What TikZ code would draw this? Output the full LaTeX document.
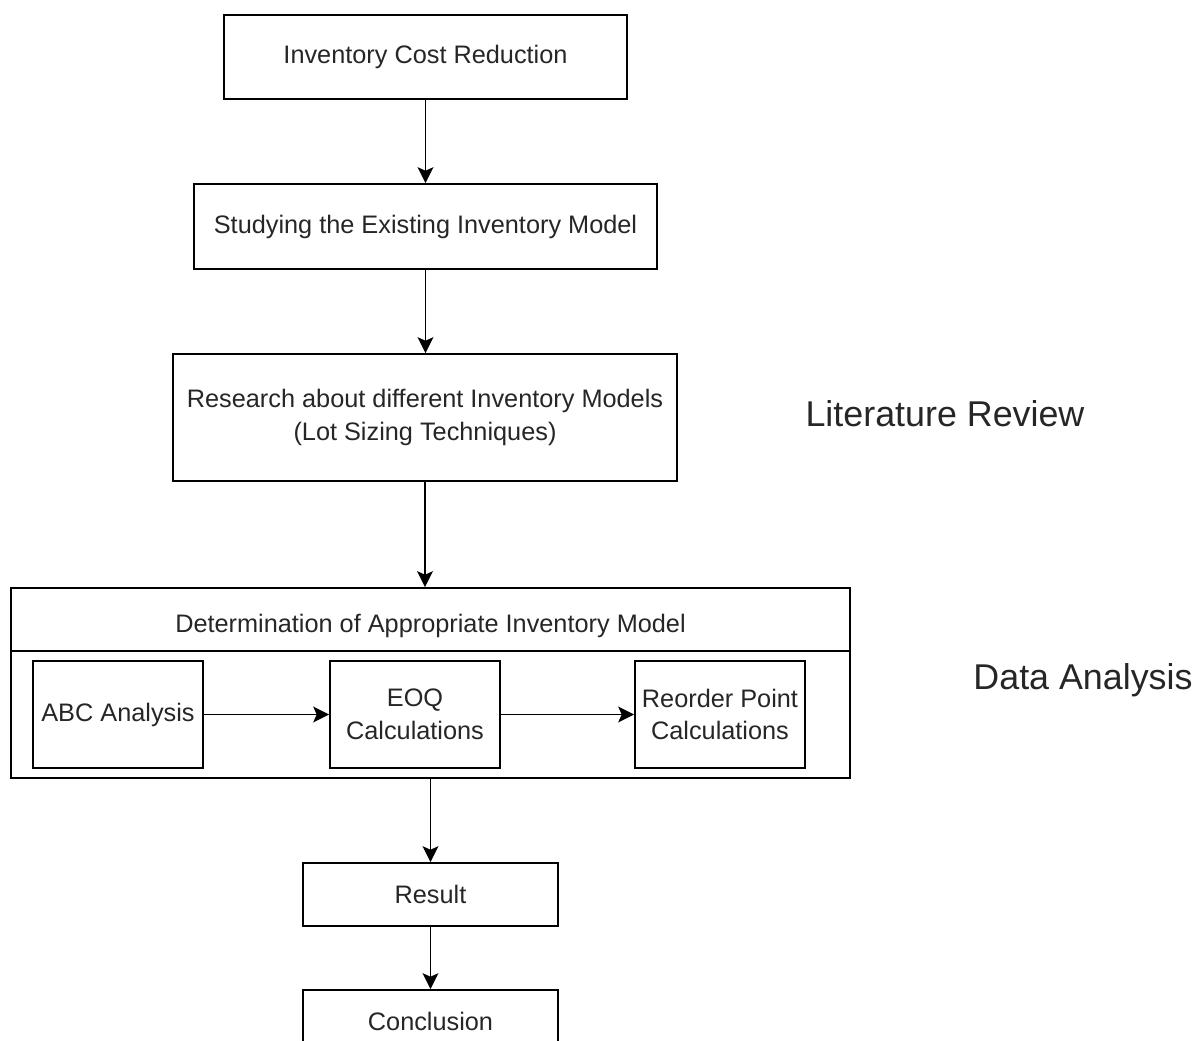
\documentclass[tikz,border=0pt]{standalone}
\usepackage{fontspec}
\setmainfont{Liberation Sans}
\usetikzlibrary{arrows.meta}
\begin{document}
\begin{tikzpicture}[x=0.02cm,y=-0.02cm,
  box/.style={draw,line width=1.1pt,inner sep=0pt,align=center,text=black!85,font=\fontsize{14.4}{18.5}\selectfont},
  flow/.style={-{Stealth[length=9pt,width=9pt,inset=2pt]},line width=1.1pt},
  side/.style={text=black!85,font=\fontsize{20.4}{24}\selectfont}]
\def\u{0.02cm}
\useasboundingbox (0,0) rectangle (1197,1041);
\clip (0,0) rectangle (1197,1041);

\node[box,minimum width=403*\u,minimum height=84*\u] (goal) at (425.5,57) {Inventory Cost Reduction};
\node[box,minimum width=463*\u,minimum height=85*\u] (study) at (425.5,226.5) {Studying the Existing Inventory Model};
\node[box,minimum width=504*\u,minimum height=127*\u] (research) at (425,417.5) {Research about different Inventory Models\\(Lot Sizing Techniques)};

% container with its header
\node[box,minimum width=839*\u,minimum height=190*\u] (model) at (430.5,683) {};
\node[box,draw=none] (modeltitle) at (430.5,626) {Determination of Appropriate Inventory Model};
\coordinate (hdr) at (0,651);
\draw[line width=1.1pt] (model.west |- hdr) -- (model.east |- hdr);

\node[box,minimum width=170*\u,minimum height=107*\u] (abc) at (118,714.5) {ABC Analysis};
\node[box,minimum width=170*\u,minimum height=107*\u] (eoq) at (415,714.5) {EOQ\\Calculations};
\node[box,minimum width=170*\u,minimum height=107*\u] (reorder) at (720,714.5) {Reorder Point\\Calculations};

\node[box,minimum width=255*\u,minimum height=63*\u] (result) at (430.5,894.5) {Result};
\node[box,minimum width=255*\u,minimum height=63*\u] (concl) at (430.5,1021.5) {Conclusion};

\node[side] (litrev) at (945,414) {Literature Review};
\node[side] (dataan) at (1083,680) {Data Analysis};

\draw[flow] (goal) -- (study);
\draw[flow] (study.south) -- (study.south |- research.north);
\draw[flow] (research.south) -- (research.south |- model.north);
\draw[flow] (abc) -- (eoq);
\draw[flow] (eoq) -- (reorder);
\draw[flow] (model) -- (result);
\draw[flow] (result) -- (concl);
\end{tikzpicture}
\end{document}
